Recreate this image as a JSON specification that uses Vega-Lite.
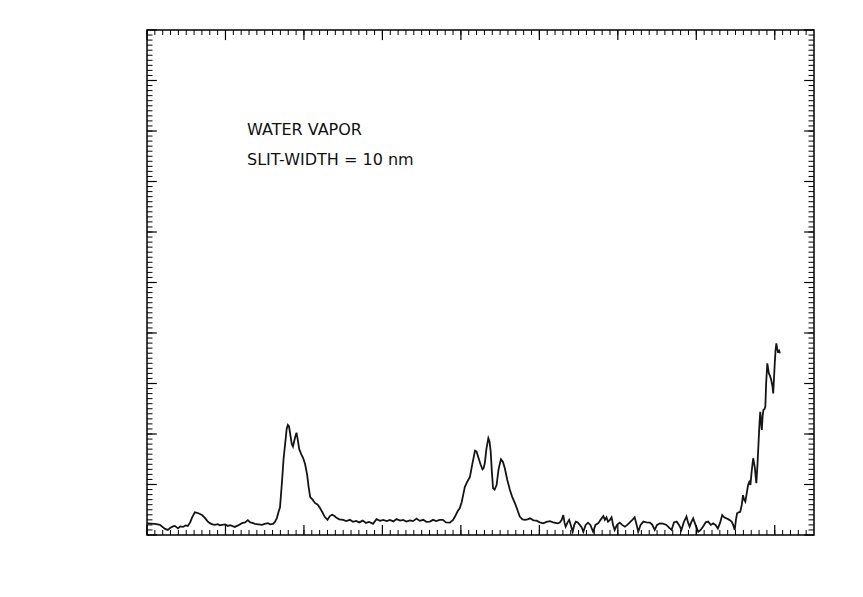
{
  "$schema": "https://vega.github.io/schema/vega-lite/v6.json",
  "autosize": "none",
  "padding": {"left": 147, "top": 30, "right": 49, "bottom": 62},
  "width": 667,
  "height": 505,
  "background": "white",
  "title": {"text": "WATER VAPOR", "subtitle": "SLIT-WIDTH = 10 nm", "anchor": "start", "orient": "top", "frame": "group",
    "font": "DejaVu Sans", "fontSize": 16, "fontWeight": "normal", "color": "#111",
    "subtitleFont": "DejaVu Sans", "subtitleFontSize": 16, "subtitleColor": "#111", "subtitlePadding": 14,
    "offset": 0, "dx": 100, "dy": 139},
  "config": {
    "view": {"stroke": "black", "strokeWidth": 1.5},
    "axis": {
      "domainColor": "black", "domainWidth": 1.5,
      "grid": false, "labelFont": "DejaVu Sans", "labelFontSize": 16, "labelColor": "#111",
      "titleFont": "DejaVu Sans", "titleFontWeight": "normal", "titleColor": "#111",
      "labelFlush": false, "labelOverlap": false
    }
  },
  "datasets": {
    "xmajor": [{"t":1000},{"t":1200},{"t":1400},{"t":1600},{"t":1800},{"t":2000},{"t":2200},{"t":2400},{"t":2600}],
    "xminor": [{"t":1000},{"t":1020},{"t":1040},{"t":1060},{"t":1080},{"t":1100},{"t":1120},{"t":1140},{"t":1160},{"t":1180},{"t":1200},{"t":1220},{"t":1240},{"t":1260},{"t":1280},{"t":1300},{"t":1320},{"t":1340},{"t":1360},{"t":1380},{"t":1400},{"t":1420},{"t":1440},{"t":1460},{"t":1480},{"t":1500},{"t":1520},{"t":1540},{"t":1560},{"t":1580},{"t":1600},{"t":1620},{"t":1640},{"t":1660},{"t":1680},{"t":1700},{"t":1720},{"t":1740},{"t":1760},{"t":1780},{"t":1800},{"t":1820},{"t":1840},{"t":1860},{"t":1880},{"t":1900},{"t":1920},{"t":1940},{"t":1960},{"t":1980},{"t":2000},{"t":2020},{"t":2040},{"t":2060},{"t":2080},{"t":2100},{"t":2120},{"t":2140},{"t":2160},{"t":2180},{"t":2200},{"t":2220},{"t":2240},{"t":2260},{"t":2280},{"t":2300},{"t":2320},{"t":2340},{"t":2360},{"t":2380},{"t":2400},{"t":2420},{"t":2440},{"t":2460},{"t":2480},{"t":2500},{"t":2520},{"t":2540},{"t":2560},{"t":2580},{"t":2600},{"t":2620},{"t":2640},{"t":2660},{"t":2680}],
    "ymajor": [{"t":0},{"t":0.002},{"t":0.004},{"t":0.006},{"t":0.008},{"t":0.01},{"t":0.012},{"t":0.014},{"t":0.016},{"t":0.018},{"t":0.02}],
    "yminor": [{"t":0.0002},{"t":0.0004},{"t":0.0006},{"t":0.0008},{"t":0.001},{"t":0.0012},{"t":0.0014},{"t":0.0016},{"t":0.0018},{"t":0.002},{"t":0.0022},{"t":0.0024},{"t":0.0026},{"t":0.0028},{"t":0.003},{"t":0.0032},{"t":0.0034},{"t":0.0036},{"t":0.0038},{"t":0.004},{"t":0.0042},{"t":0.0044},{"t":0.0046},{"t":0.0048},{"t":0.005},{"t":0.0052},{"t":0.0054},{"t":0.0056},{"t":0.0058},{"t":0.006},{"t":0.0062},{"t":0.0064},{"t":0.0066},{"t":0.0068},{"t":0.007},{"t":0.0072},{"t":0.0074},{"t":0.0076},{"t":0.0078},{"t":0.008},{"t":0.0082},{"t":0.0084},{"t":0.0086},{"t":0.0088},{"t":0.009},{"t":0.0092},{"t":0.0094},{"t":0.0096},{"t":0.0098},{"t":0.01},{"t":0.0102},{"t":0.0104},{"t":0.0106},{"t":0.0108},{"t":0.011},{"t":0.0112},{"t":0.0114},{"t":0.0116},{"t":0.0118},{"t":0.012},{"t":0.0122},{"t":0.0124},{"t":0.0126},{"t":0.0128},{"t":0.013},{"t":0.0132},{"t":0.0134},{"t":0.0136},{"t":0.0138},{"t":0.014},{"t":0.0142},{"t":0.0144},{"t":0.0146},{"t":0.0148},{"t":0.015},{"t":0.0152},{"t":0.0154},{"t":0.0156},{"t":0.0158},{"t":0.016},{"t":0.0162},{"t":0.0164},{"t":0.0166},{"t":0.0168},{"t":0.017},{"t":0.0172},{"t":0.0174},{"t":0.0176},{"t":0.0178},{"t":0.018},{"t":0.0182},{"t":0.0184},{"t":0.0186},{"t":0.0188},{"t":0.019},{"t":0.0192},{"t":0.0194},{"t":0.0196},{"t":0.0198}],
    "spectrum": [
    {"nm":1000,"a":0.00046},{"nm":1010,"a":0.00045},{"nm":1020,"a":0.00044},{"nm":1033,"a":0.0004},{"nm":1046,"a":0.00024},{"nm":1053,"a":0.0002},{"nm":1059,"a":0.00028},{"nm":1066,"a":0.00034},{"nm":1071,"a":0.00036},{"nm":1079,"a":0.00026},{"nm":1085,"a":0.00034},{"nm":1092,"a":0.00032},{"nm":1098,"a":0.00038},{"nm":1104,"a":0.00036},{"nm":1110,"a":0.0005},{"nm":1115,"a":0.0007},{"nm":1122,"a":0.0009},{"nm":1128,"a":0.00088},{"nm":1135,"a":0.00083},{"nm":1141,"a":0.00078},{"nm":1148,"a":0.00067},{"nm":1154,"a":0.00055},{"nm":1160,"a":0.00047},{"nm":1167,"a":0.00042},{"nm":1173,"a":0.0004},{"nm":1180,"a":0.00043},{"nm":1186,"a":0.00038},{"nm":1191,"a":0.0004},{"nm":1199,"a":0.00042},{"nm":1206,"a":0.00036},{"nm":1212,"a":0.00039},{"nm":1218,"a":0.00035},{"nm":1224,"a":0.00032},{"nm":1232,"a":0.00038},{"nm":1242,"a":0.00047},{"nm":1250,"a":0.0005},{"nm":1257,"a":0.00059},{"nm":1263,"a":0.0005},{"nm":1269,"a":0.00048},{"nm":1275,"a":0.00044},{"nm":1284,"a":0.00042},{"nm":1293,"a":0.0004},{"nm":1300,"a":0.00044},{"nm":1308,"a":0.00047},{"nm":1314,"a":0.00042},{"nm":1321,"a":0.00044},{"nm":1326,"a":0.00052},{"nm":1331,"a":0.00067},{"nm":1335,"a":0.0009},{"nm":1339,"a":0.0011},{"nm":1344,"a":0.0021},{"nm":1348,"a":0.003},{"nm":1352,"a":0.0036},{"nm":1356,"a":0.0042},{"nm":1359,"a":0.00436},{"nm":1362,"a":0.0043},{"nm":1365,"a":0.004},{"nm":1369,"a":0.0036},{"nm":1372,"a":0.0035},{"nm":1375,"a":0.0037},{"nm":1378,"a":0.0039},{"nm":1381,"a":0.00405},{"nm":1384,"a":0.0038},{"nm":1388,"a":0.0034},{"nm":1393,"a":0.0032},{"nm":1398,"a":0.00305},{"nm":1403,"a":0.0028},{"nm":1408,"a":0.0024},{"nm":1412,"a":0.0019},{"nm":1416,"a":0.0015},{"nm":1422,"a":0.0014},{"nm":1428,"a":0.00127},{"nm":1435,"a":0.0012},{"nm":1441,"a":0.00107},{"nm":1447,"a":0.0009},{"nm":1453,"a":0.00072},{"nm":1460,"a":0.0006},{"nm":1466,"a":0.00075},{"nm":1472,"a":0.0008},{"nm":1478,"a":0.00075},{"nm":1483,"a":0.00068},{"nm":1490,"a":0.00062},{"nm":1500,"a":0.0006},{"nm":1508,"a":0.00055},{"nm":1517,"a":0.0006},{"nm":1525,"a":0.00052},{"nm":1533,"a":0.00056},{"nm":1541,"a":0.0005},{"nm":1550,"a":0.00057},{"nm":1558,"a":0.00048},{"nm":1566,"a":0.00052},{"nm":1576,"a":0.00044},{"nm":1585,"a":0.00063},{"nm":1594,"a":0.00056},{"nm":1602,"a":0.0006},{"nm":1611,"a":0.00055},{"nm":1619,"a":0.0006},{"nm":1628,"a":0.00054},{"nm":1636,"a":0.00063},{"nm":1645,"a":0.00057},{"nm":1653,"a":0.0006},{"nm":1661,"a":0.00053},{"nm":1670,"a":0.00058},{"nm":1678,"a":0.00055},{"nm":1687,"a":0.00065},{"nm":1695,"a":0.00056},{"nm":1704,"a":0.0006},{"nm":1712,"a":0.00052},{"nm":1721,"a":0.00053},{"nm":1729,"a":0.0006},{"nm":1737,"a":0.00055},{"nm":1746,"a":0.0006},{"nm":1754,"a":0.0006},{"nm":1762,"a":0.0005},{"nm":1772,"a":0.00049},{"nm":1780,"a":0.0006},{"nm":1785,"a":0.00073},{"nm":1792,"a":0.00095},{"nm":1797,"a":0.00106},{"nm":1802,"a":0.0013},{"nm":1806,"a":0.0016},{"nm":1810,"a":0.0019},{"nm":1816,"a":0.0021},{"nm":1823,"a":0.0023},{"nm":1829,"a":0.0028},{"nm":1836,"a":0.00334},{"nm":1840,"a":0.0033},{"nm":1844,"a":0.0031},{"nm":1850,"a":0.0028},{"nm":1855,"a":0.0026},{"nm":1858,"a":0.00265},{"nm":1861,"a":0.00285},{"nm":1865,"a":0.0034},{"nm":1870,"a":0.00383},{"nm":1873,"a":0.0037},{"nm":1876,"a":0.0033},{"nm":1879,"a":0.0025},{"nm":1882,"a":0.00185},{"nm":1886,"a":0.0018},{"nm":1891,"a":0.00198},{"nm":1896,"a":0.0026},{"nm":1902,"a":0.003},{"nm":1907,"a":0.0029},{"nm":1912,"a":0.00264},{"nm":1918,"a":0.0022},{"nm":1925,"a":0.00178},{"nm":1931,"a":0.0015},{"nm":1938,"a":0.00125},{"nm":1944,"a":0.001},{"nm":1950,"a":0.00073},{"nm":1957,"a":0.00062},{"nm":1963,"a":0.0006},{"nm":1970,"a":0.00062},{"nm":1976,"a":0.00066},{"nm":1985,"a":0.00058},{"nm":1993,"a":0.00057},{"nm":2001,"a":0.0005},{"nm":2010,"a":0.00046},{"nm":2018,"a":0.00052},{"nm":2027,"a":0.00055},{"nm":2035,"a":0.0005},{"nm":2041,"a":0.00048},{"nm":2047,"a":0.00046},{"nm":2052,"a":0.00049},{"nm":2057,"a":0.0006},{"nm":2061,"a":0.00079},{"nm":2064,"a":0.0005},{"nm":2067,"a":0.00033},{"nm":2072,"a":0.0005},{"nm":2076,"a":0.0006},{"nm":2080,"a":0.0004},{"nm":2085,"a":0.00013},{"nm":2089,"a":0.0004},{"nm":2093,"a":0.00053},{"nm":2098,"a":0.0005},{"nm":2103,"a":0.0004},{"nm":2108,"a":0.0003},{"nm":2112,"a":0.00013},{"nm":2118,"a":0.0004},{"nm":2124,"a":0.00049},{"nm":2130,"a":0.0004},{"nm":2137,"a":0.00013},{"nm":2143,"a":0.0004},{"nm":2150,"a":0.00046},{"nm":2156,"a":0.0006},{"nm":2163,"a":0.00075},{"nm":2167,"a":0.0006},{"nm":2171,"a":0.0007},{"nm":2175,"a":0.00053},{"nm":2180,"a":0.0006},{"nm":2184,"a":0.0007},{"nm":2188,"a":0.0004},{"nm":2192,"a":0.0002},{"nm":2198,"a":0.0004},{"nm":2205,"a":0.00049},{"nm":2211,"a":0.0004},{"nm":2218,"a":0.00033},{"nm":2224,"a":0.0004},{"nm":2230,"a":0.00049},{"nm":2237,"a":0.0006},{"nm":2243,"a":0.0007},{"nm":2248,"a":0.0004},{"nm":2252,"a":0.00013},{"nm":2258,"a":0.0004},{"nm":2265,"a":0.00053},{"nm":2273,"a":0.0005},{"nm":2282,"a":0.00049},{"nm":2288,"a":0.0004},{"nm":2294,"a":0.0002},{"nm":2300,"a":0.0004},{"nm":2307,"a":0.00046},{"nm":2315,"a":0.00045},{"nm":2324,"a":0.0004},{"nm":2330,"a":0.0003},{"nm":2337,"a":0.0002},{"nm":2343,"a":0.0005},{"nm":2350,"a":0.00053},{"nm":2356,"a":0.0004},{"nm":2362,"a":0.0002},{"nm":2368,"a":0.0005},{"nm":2375,"a":0.00073},{"nm":2379,"a":0.0005},{"nm":2383,"a":0.00033},{"nm":2387,"a":0.0005},{"nm":2392,"a":0.00066},{"nm":2398,"a":0.0004},{"nm":2405,"a":0.00013},{"nm":2411,"a":0.0002},{"nm":2417,"a":0.00033},{"nm":2424,"a":0.0005},{"nm":2430,"a":0.00053},{"nm":2437,"a":0.0004},{"nm":2443,"a":0.00046},{"nm":2449,"a":0.0004},{"nm":2455,"a":0.00026},{"nm":2461,"a":0.0005},{"nm":2466,"a":0.00079},{"nm":2471,"a":0.0007},{"nm":2477,"a":0.00066},{"nm":2484,"a":0.0006},{"nm":2490,"a":0.00053},{"nm":2494,"a":0.0004},{"nm":2498,"a":0.0002},{"nm":2501,"a":0.0006},{"nm":2504,"a":0.00086},{"nm":2508,"a":0.0009},{"nm":2512,"a":0.00092},{"nm":2516,"a":0.0012},{"nm":2519,"a":0.00158},{"nm":2522,"a":0.0014},{"nm":2525,"a":0.00132},{"nm":2529,"a":0.0017},{"nm":2532,"a":0.00198},{"nm":2535,"a":0.0021},{"nm":2538,"a":0.00198},{"nm":2541,"a":0.0025},{"nm":2545,"a":0.00304},{"nm":2549,"a":0.0027},{"nm":2553,"a":0.00205},{"nm":2556,"a":0.0028},{"nm":2559,"a":0.00376},{"nm":2561,"a":0.0044},{"nm":2563,"a":0.00488},{"nm":2565,"a":0.0045},{"nm":2567,"a":0.00416},{"nm":2569,"a":0.0047},{"nm":2571,"a":0.00495},{"nm":2574,"a":0.005},{"nm":2576,"a":0.00508},{"nm":2578,"a":0.006},{"nm":2581,"a":0.0068},{"nm":2583,"a":0.0066},{"nm":2585,"a":0.0064},{"nm":2588,"a":0.0063},{"nm":2591,"a":0.00614},{"nm":2594,"a":0.0059},{"nm":2596,"a":0.00561},{"nm":2598,"a":0.0062},{"nm":2600,"a":0.0068},{"nm":2602,"a":0.0073},{"nm":2604,"a":0.00759},{"nm":2606,"a":0.0074},{"nm":2608,"a":0.00726},{"nm":2611,"a":0.0073},{"nm":2613,"a":0.0072}
    ]
  },
  "layer": [
    {
      "data": {"name": "spectrum"},
      "mark": {"type": "line", "color": "#151515", "strokeWidth": 1.8},
      "encoding": {
        "x": {"field": "nm", "type": "quantitative",
          "scale": {"domain": [1000, 2700], "nice": false, "zero": false},
          "axis": {"orient": "bottom", "values": [1000, 1200, 1400, 1600, 1800, 2000, 2200, 2400, 2600],
            "ticks": false, "labelPadding": 10, "format": "d",
            "title": "WAVELENGTH\u00a0\u00a0\u00a0\u00a0\u00a0nm", "titleFontSize": 22, "titleBaseline": "alphabetic", "titleX": 330, "titleY": 53}},
        "y": {"field": "a", "type": "quantitative",
          "scale": {"domain": [0, 0.02], "nice": false},
          "axis": {"orient": "left", "values": [0, 0.002, 0.004, 0.006, 0.008, 0.01, 0.012, 0.014, 0.016, 0.018, 0.02],
            "ticks": false, "labelPadding": 10,
            "labelExpr": "datum.value == 0 ? '0. 0' : (datum.value > 0.0199 ? '. 02' : replace(format(datum.value, '.3~f'), '0.', '.'))",
            "title": "LOG(1/T)", "titleFontSize": 22, "titleBaseline": "middle", "titleX": -72, "titleY": 243}}
      }
    },
    {
      "data": {"name": "xminor"},
      "mark": {"type": "rule", "color": "black", "strokeWidth": 1},
      "encoding": {
        "x": {"field": "t", "type": "quantitative", "axis": null},
        "y": {"datum": 0, "type": "quantitative", "axis": null},
        "y2": {"datum": 0.0002}
      }
    },
    {
      "data": {"name": "xminor"},
      "mark": {"type": "rule", "color": "black", "strokeWidth": 1},
      "encoding": {
        "x": {"field": "t", "type": "quantitative", "axis": null},
        "y": {"datum": 0.0198, "type": "quantitative", "axis": null},
        "y2": {"datum": 0.02}
      }
    },
    {
      "data": {"name": "xmajor"},
      "mark": {"type": "rule", "color": "black", "strokeWidth": 1.2},
      "encoding": {
        "x": {"field": "t", "type": "quantitative", "axis": null},
        "y": {"datum": 0, "type": "quantitative", "axis": null},
        "y2": {"datum": 0.0004}
      }
    },
    {
      "data": {"name": "xmajor"},
      "mark": {"type": "rule", "color": "black", "strokeWidth": 1.2},
      "encoding": {
        "x": {"field": "t", "type": "quantitative", "axis": null},
        "y": {"datum": 0.0196, "type": "quantitative", "axis": null},
        "y2": {"datum": 0.02}
      }
    },
    {
      "data": {"name": "yminor"},
      "mark": {"type": "rule", "color": "black", "strokeWidth": 1},
      "encoding": {
        "y": {"field": "t", "type": "quantitative", "axis": null},
        "x": {"datum": 1000, "type": "quantitative", "axis": null},
        "x2": {"datum": 1014}
      }
    },
    {
      "data": {"name": "yminor"},
      "mark": {"type": "rule", "color": "black", "strokeWidth": 1},
      "encoding": {
        "y": {"field": "t", "type": "quantitative", "axis": null},
        "x": {"datum": 2686, "type": "quantitative", "axis": null},
        "x2": {"datum": 2700}
      }
    },
    {
      "data": {"name": "ymajor"},
      "mark": {"type": "rule", "color": "black", "strokeWidth": 1.2},
      "encoding": {
        "y": {"field": "t", "type": "quantitative", "axis": null},
        "x": {"datum": 1000, "type": "quantitative", "axis": null},
        "x2": {"datum": 1025}
      }
    },
    {
      "data": {"name": "ymajor"},
      "mark": {"type": "rule", "color": "black", "strokeWidth": 1.2},
      "encoding": {
        "y": {"field": "t", "type": "quantitative", "axis": null},
        "x": {"datum": 2675, "type": "quantitative", "axis": null},
        "x2": {"datum": 2700}
      }
    }
  ]
}
